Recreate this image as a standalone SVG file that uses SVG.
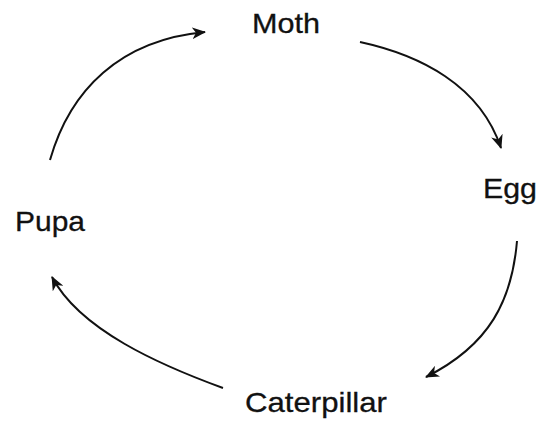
<svg xmlns="http://www.w3.org/2000/svg" width="546" height="421" viewBox="0 0 546 421">
<style>
.lbl{font-family:"Liberation Sans",Arial,sans-serif;font-size:28px;fill:#111;stroke:#111;stroke-width:0.3}
.conn{fill:none;stroke:#111;stroke-width:2;marker-end:url(#ah)}
</style>
<defs>
<marker id="ah" viewBox="0 0 14 12" refX="13" refY="6" markerWidth="14" markerHeight="12" markerUnits="userSpaceOnUse" orient="auto">
<path d="M0,0 L14,6 L0,12 L4,6 z" fill="#111"/>
</marker>
</defs>
<rect width="546" height="421" fill="#fff"/>
<g id="connectors">
<path class="conn" d="M50,160 C70,90 120,40 205,32"/>
<path class="conn" d="M360,42 C420,55 480,85 501,148"/>
<path class="conn" d="M517,241 C512,300 490,345 426,377"/>
<path class="conn" d="M223,388 C160,365 80,330 52,277"/>
</g>
<g id="moth"><text class="lbl" x="252" y="33" textLength="68" lengthAdjust="spacingAndGlyphs">Moth</text></g>
<g id="egg"><text class="lbl" x="483" y="198" textLength="54" lengthAdjust="spacingAndGlyphs">Egg</text></g>
<g id="pupa"><text class="lbl" x="15" y="231" textLength="70" lengthAdjust="spacingAndGlyphs">Pupa</text></g>
<g id="caterpillar"><text class="lbl" x="245" y="412" textLength="142" lengthAdjust="spacingAndGlyphs">Caterpillar</text></g>
</svg>
